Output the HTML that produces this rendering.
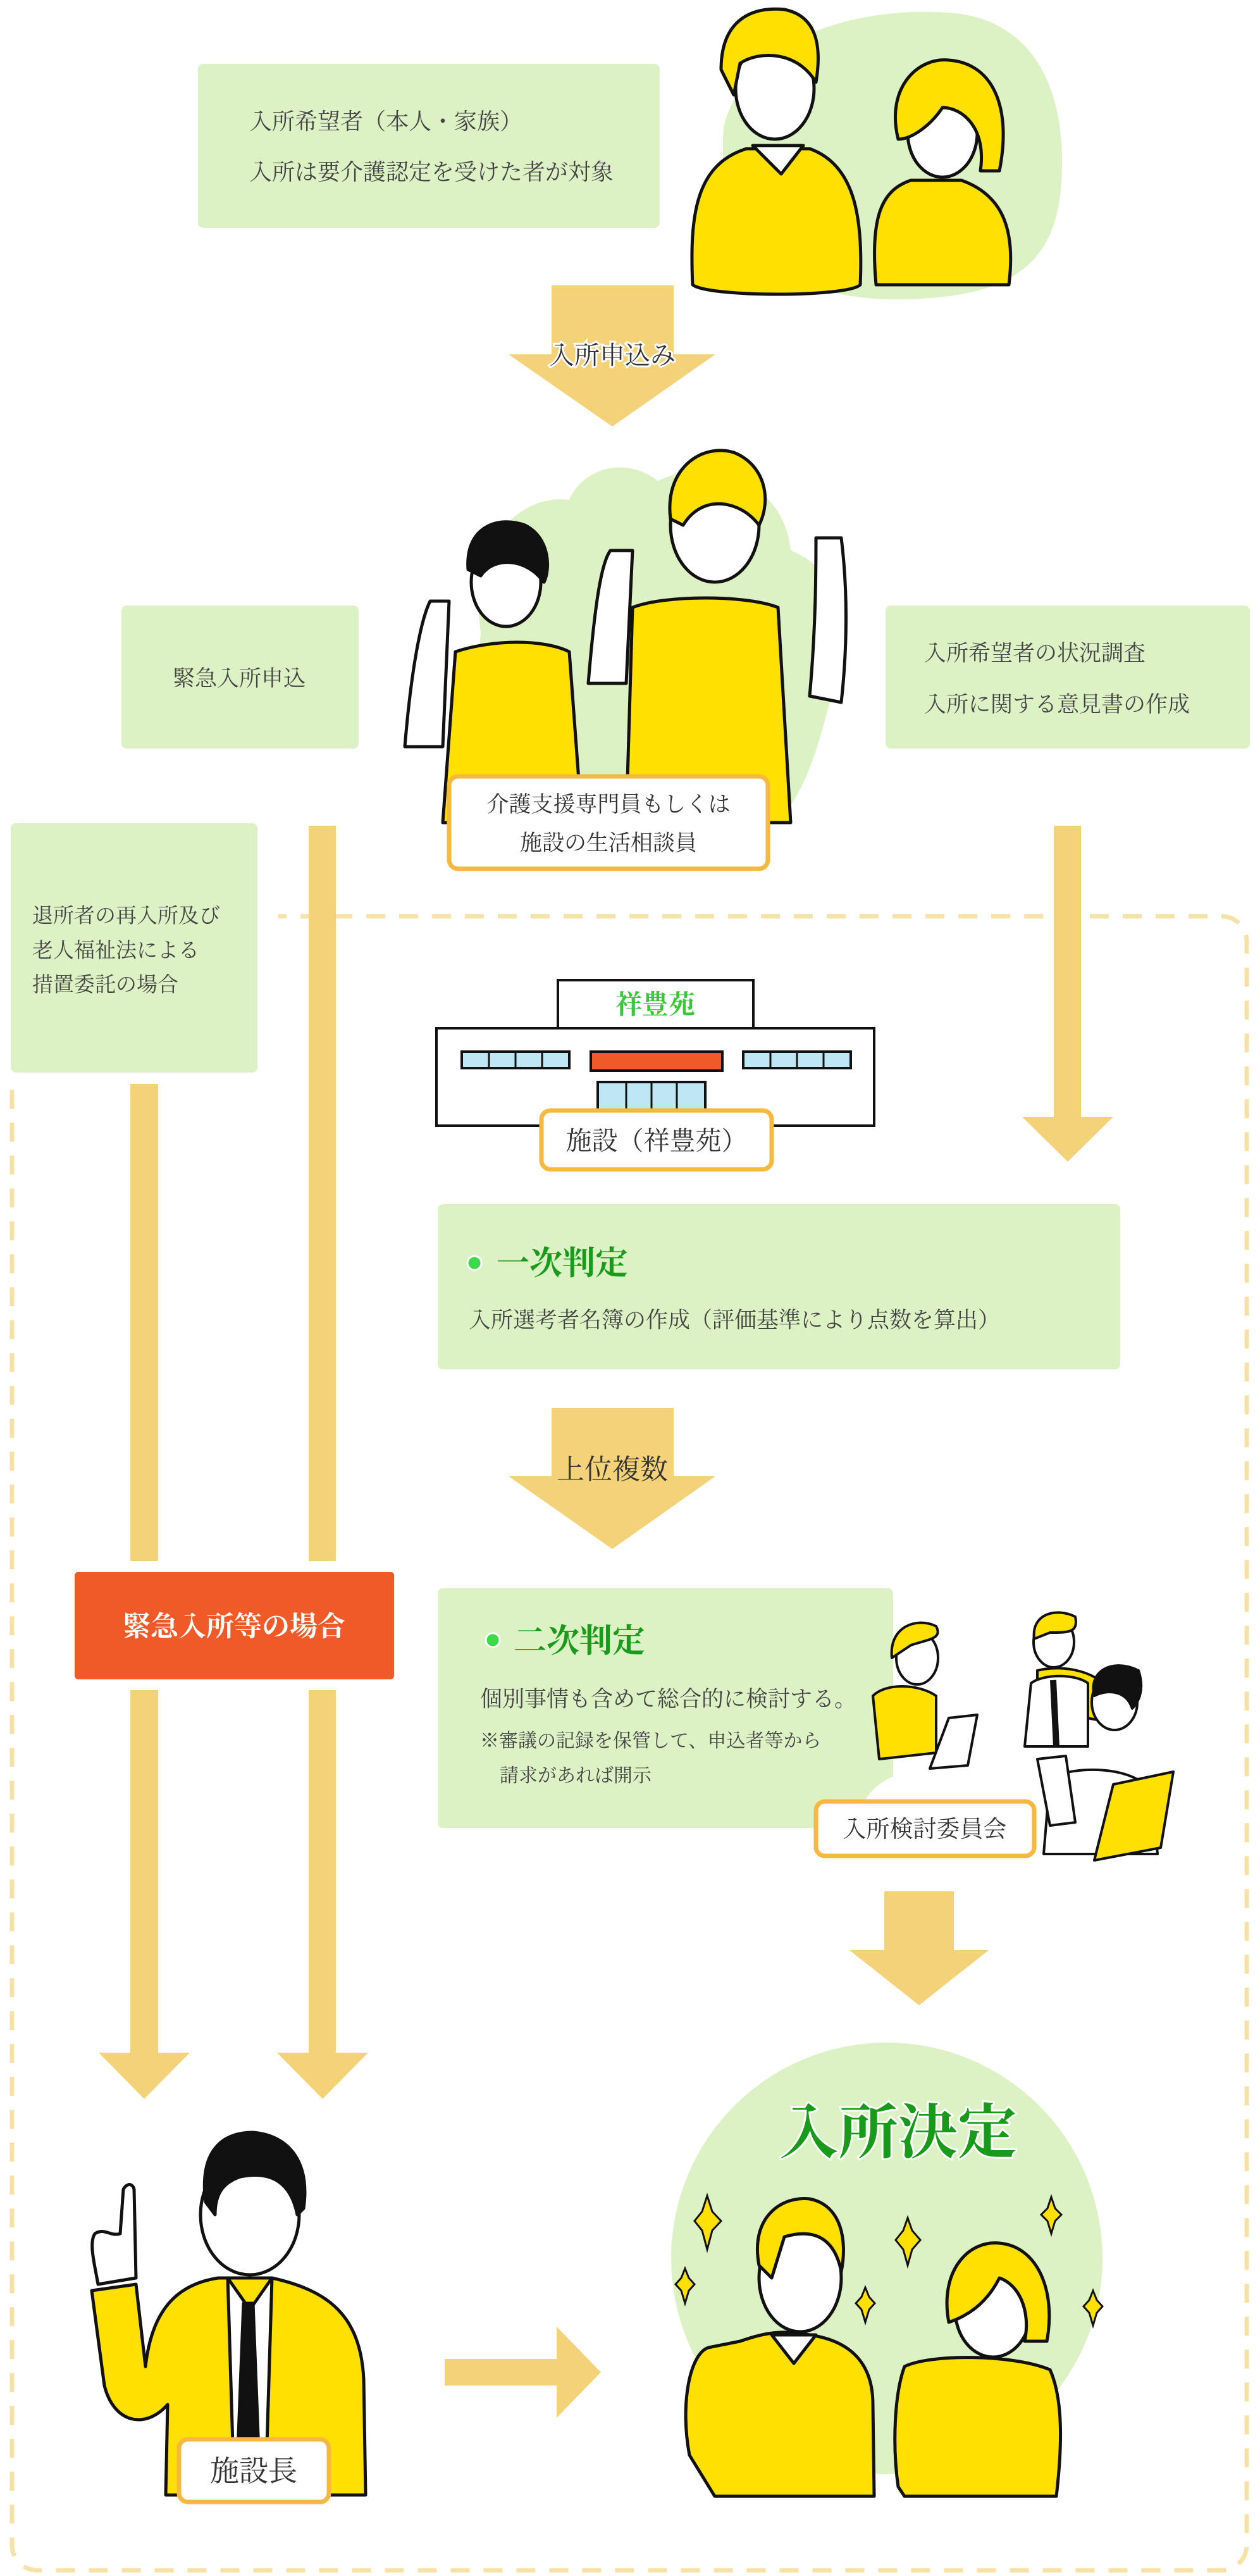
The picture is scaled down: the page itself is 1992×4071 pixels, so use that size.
<!DOCTYPE html>
<html><head><meta charset="utf-8"><style>
html,body{margin:0;padding:0;background:#fff}
svg{display:block}
text{font-family:"Liberation Serif","Noto Serif CJK JP","Noto Serif CJK SC",serif}
</style></head><body>
<svg width="1992" height="4071" viewBox="0 0 1992 4071" xmlns="http://www.w3.org/2000/svg">
<!-- dashed frame -->
<rect x="19" y="1448" width="1952" height="2614" rx="40" fill="none" stroke="#f6e2a6" stroke-width="7" stroke-dasharray="30 22"/>
<rect x="0" y="1300" width="440" height="420" fill="#fff"/>

<!-- top box -->
<rect x="313" y="101" width="730" height="259" rx="8" fill="#dcf2c4"/>
<text x="394" y="204" font-size="36" fill="#444">入所希望者（本人・家族）</text>
<text x="394" y="284" font-size="36" fill="#444">入所は要介護認定を受けた者が対象</text>

<!-- couple top -->
<path d="M1144 200 C1180 60 1350 10 1500 20 C1640 30 1690 150 1677 300 C1665 430 1580 470 1430 473 C1250 476 1130 400 1144 200Z" fill="#dcf2c4"/>
<g stroke="#111" stroke-width="5" stroke-linejoin="round">
<path d="M1095 450 C1090 340 1100 260 1180 235 L1280 235 C1350 260 1365 340 1360 450 C1340 470 1120 470 1095 450Z" fill="#ffe000"/>
<path d="M1190 230 L1235 275 L1270 230Z" fill="#fff"/>
<ellipse cx="1225" cy="140" rx="62" ry="80" fill="#fff"/>
<path d="M1140 110 C1140 30 1190 10 1240 15 C1290 25 1300 70 1290 130 C1260 80 1200 80 1170 100 L1160 150 Z" fill="#ffe000"/>
<path d="M1385 450 C1375 340 1395 300 1440 285 L1520 285 C1590 310 1605 370 1595 450 Z" fill="#ffe000"/>
<ellipse cx="1490" cy="210" rx="55" ry="70" fill="#fff"/>
<path d="M1420 220 C1400 140 1450 90 1500 95 C1570 100 1600 170 1580 270 L1550 270 C1560 200 1520 170 1490 170 C1470 200 1440 220 1420 220Z" fill="#ffe000"/>
</g>

<!-- arrow 1 -->
<rect x="872" y="451" width="193" height="110" fill="#f3d27a"/>
<polygon points="804,560 1131,560 968,674" fill="#f3d27a"/>
<text x="968" y="575" font-size="40" fill="#333" text-anchor="middle" stroke="#fff" stroke-width="6" paint-order="stroke">入所申込み</text>

<!-- staff blob -->
<path d="M760 1000 C740 860 820 780 900 790 C920 740 990 720 1040 760 C1120 720 1240 760 1250 870 C1330 900 1350 1000 1320 1080 C1300 1150 1280 1250 1230 1295 L800 1295 C760 1220 750 1100 760 1000Z" fill="#dcf2c4"/>
<g stroke="#111" stroke-width="5" stroke-linejoin="round">
<path d="M640 1180 C650 1060 665 980 680 950 L710 950 L700 1180 Z" fill="#fff"/>
<path d="M700 1300 L720 1030 C780 1010 860 1010 900 1030 L920 1300 Z" fill="#ffe000"/>
<ellipse cx="800" cy="920" rx="55" ry="70" fill="#fff"/>
<path d="M740 900 C735 830 790 815 830 830 C870 850 870 900 860 920 C830 880 780 880 760 910Z" fill="#111"/>
<path d="M930 1080 C940 960 950 890 965 870 L1000 870 L990 1080Z" fill="#fff"/>
<path d="M990 1300 L1000 960 C1050 940 1180 940 1230 960 L1250 1300Z" fill="#ffe000"/>
<ellipse cx="1130" cy="830" rx="70" ry="90" fill="#fff"/>
<path d="M1060 820 C1050 740 1110 700 1160 715 C1210 735 1220 790 1200 830 C1170 790 1110 780 1080 830Z" fill="#ffe000"/>
<path d="M1280 1100 C1290 990 1290 900 1290 850 L1330 850 C1340 930 1340 1020 1330 1110Z" fill="#fff"/>
</g>

<!-- side boxes -->
<rect x="192" y="957" width="375" height="226" rx="8" fill="#dcf2c4"/>
<text x="273" y="1084" font-size="35" fill="#444">緊急入所申込</text>
<rect x="1400" y="957" width="576" height="226" rx="8" fill="#dcf2c4"/>
<text x="1461" y="1044" font-size="35" fill="#444">入所希望者の状況調査</text>
<text x="1461" y="1125" font-size="35" fill="#444">入所に関する意見書の作成</text>

<!-- label staff -->
<rect x="710" y="1227" width="504" height="146" rx="14" fill="#fff" stroke="#f5b942" stroke-width="7"/>
<text x="962" y="1283" font-size="35" fill="#333" text-anchor="middle">介護支援専門員もしくは</text>
<text x="962" y="1344" font-size="35" fill="#333" text-anchor="middle">施設の生活相談員</text>

<!-- 退所者 box -->
<rect x="17" y="1301" width="390" height="394" rx="8" fill="#dcf2c4"/>
<text x="51" y="1458" font-size="33" fill="#444">退所者の再入所及び</text>
<text x="51" y="1513" font-size="33" fill="#444">老人福祉法による</text>
<text x="51" y="1567" font-size="33" fill="#444">措置委託の場合</text>

<!-- bars -->
<rect x="488" y="1305" width="43" height="1162" fill="#f3d27a"/>
<rect x="206" y="1713" width="44" height="754" fill="#f3d27a"/>
<rect x="1666" y="1305" width="43" height="465" fill="#f3d27a"/>
<polygon points="1616,1765 1760,1765 1688,1836" fill="#f3d27a"/>

<!-- building -->
<rect x="882" y="1549" width="309" height="78" fill="#fff" stroke="#111" stroke-width="4"/>
<text x="1036" y="1602" font-size="42" font-weight="bold" fill="#3cc63c" text-anchor="middle">祥豊苑</text>
<rect x="690" y="1625" width="692" height="154" fill="#fff" stroke="#111" stroke-width="4"/>
<g stroke="#111" stroke-width="4" fill="#bfe6f5">
<rect x="730" y="1662" width="170" height="26"/><rect x="1175" y="1662" width="170" height="26"/>
<rect x="945" y="1710" width="170" height="80"/>
</g>
<g stroke="#111" stroke-width="3">
<line x1="773" y1="1662" x2="773" y2="1688"/><line x1="815" y1="1662" x2="815" y2="1688"/><line x1="857" y1="1662" x2="857" y2="1688"/>
<line x1="1218" y1="1662" x2="1218" y2="1688"/><line x1="1260" y1="1662" x2="1260" y2="1688"/><line x1="1302" y1="1662" x2="1302" y2="1688"/>
<line x1="990" y1="1710" x2="990" y2="1790"/><line x1="1030" y1="1710" x2="1030" y2="1790"/><line x1="1070" y1="1710" x2="1070" y2="1790"/>
</g>
<rect x="934" y="1662" width="208" height="30" fill="#f05a28" stroke="#111" stroke-width="4"/>
<rect x="856" y="1755" width="364" height="93" rx="14" fill="#fff" stroke="#f5b942" stroke-width="7"/>
<text x="1038" y="1817" font-size="41" fill="#333" text-anchor="middle">施設（祥豊苑）</text>

<!-- 一次判定 -->
<rect x="692" y="1903" width="1079" height="261" rx="8" fill="#dcf2c4"/>
<circle cx="750" cy="1996" r="11" fill="#3fd84a" stroke="#fff" stroke-width="3"/>
<text x="785" y="2014" font-size="52" font-weight="bold" fill="#1a9a1a">一次判定</text>
<text x="741" y="2098" font-size="35" fill="#444">入所選考者名簿の作成（評価基準により点数を算出）</text>

<!-- arrow 上位複数 -->
<rect x="872" y="2225" width="193" height="110" fill="#f3d27a"/>
<polygon points="804,2333 1131,2333 968,2448" fill="#f3d27a"/>
<text x="968" y="2337" font-size="44" fill="#333" text-anchor="middle">上位複数</text>

<!-- 緊急 red -->
<rect x="118" y="2484" width="505" height="170" rx="6" fill="#f05a28"/>
<text x="370" y="2585" font-size="44" font-weight="bold" fill="#fff" text-anchor="middle">緊急入所等の場合</text>
<rect x="488" y="2671" width="43" height="575" fill="#f3d27a"/>
<rect x="206" y="2671" width="44" height="575" fill="#f3d27a"/>
<polygon points="156,3244 300,3244 228,3317" fill="#f3d27a"/>
<polygon points="438,3244 582,3244 510,3317" fill="#f3d27a"/>

<!-- 二次判定 -->
<rect x="692" y="2510" width="720" height="379" rx="8" fill="#dcf2c4"/>
<circle cx="779" cy="2592" r="11" fill="#3fd84a" stroke="#fff" stroke-width="3"/>
<text x="812" y="2611" font-size="52" font-weight="bold" fill="#1a9a1a">二次判定</text>
<text x="759" y="2697" font-size="35" fill="#444">個別事情も含めて総合的に検討する。</text>
<text x="759" y="2761" font-size="30" fill="#444">※審議の記録を保管して、申込者等から</text>
<text x="790" y="2816" font-size="30" fill="#444">請求があれば開示</text>

<!-- meeting -->
<path d="M1360 2880 C1360 2830 1400 2800 1480 2790 L1700 2790 L1800 2940 L1360 2940Z" fill="#fff"/>
<g stroke="#111" stroke-width="4" stroke-linejoin="round">
<path d="M1390 2780 L1380 2680 C1400 2660 1450 2660 1480 2680 L1480 2770Z" fill="#ffe000"/>
<ellipse cx="1450" cy="2620" rx="33" ry="42" fill="#fff"/>
<path d="M1410 2620 C1405 2570 1450 2555 1480 2570 C1490 2590 1470 2590 1440 2600 Z" fill="#ffe000"/>
<path d="M1500 2715 L1545 2710 L1530 2790 L1470 2795Z" fill="#fff"/>
<path d="M1640 2640 C1680 2630 1740 2640 1760 2680 L1745 2720 L1640 2700Z" fill="#ffe000"/>
<path d="M1620 2760 L1630 2660 C1650 2645 1700 2645 1720 2660 L1720 2760Z" fill="#fff"/>
<ellipse cx="1666" cy="2595" rx="32" ry="40" fill="#fff"/>
<path d="M1635 2590 C1630 2550 1670 2540 1700 2555 C1705 2580 1690 2580 1660 2580Z" fill="#ffe000"/>
<path d="M1665 2655 L1670 2760" stroke-width="10"/>
<ellipse cx="1762" cy="2690" rx="36" ry="44" fill="#fff"/>
<path d="M1730 2680 C1720 2640 1760 2620 1800 2640 C1810 2670 1800 2690 1790 2700 C1780 2670 1750 2670 1730 2680Z" fill="#111"/>
<path d="M1650 2930 L1660 2810 C1700 2790 1790 2790 1820 2830 L1830 2930Z" fill="#fff"/>
<path d="M1730 2940 L1760 2820 L1855 2800 L1835 2920Z" fill="#ffe000"/>
<path d="M1640 2780 L1685 2775 L1700 2880 L1660 2885Z" fill="#fff"/>
</g>
<rect x="1290" y="2847" width="345" height="86" rx="14" fill="#fff" stroke="#f5b942" stroke-width="7"/>
<text x="1462" y="2903" font-size="37" fill="#333" text-anchor="middle">入所検討委員会</text>

<rect x="1398" y="2989" width="110" height="95" fill="#f3d27a"/>
<polygon points="1343,3082 1563,3082 1453,3169" fill="#f3d27a"/>

<!-- director -->
<g stroke="#111" stroke-width="5" stroke-linejoin="round">
<path d="M230 3740 C240 3650 280 3610 345 3600 L430 3600 C520 3620 570 3660 575 3760 L578 3943 L262 3943 L265 3800 C230 3840 180 3830 165 3770 L145 3620 L215 3610 Z" fill="#ffe000"/>
<path d="M360 3600 L395 3650 L430 3600 L420 3930 L370 3930Z" fill="#fff"/>
<path d="M385 3640 L400 3640 L410 3900 L390 3930 L375 3900Z" fill="#111"/>
<ellipse cx="395" cy="3500" rx="78" ry="95" fill="#fff"/>
<path d="M325 3480 C315 3400 350 3370 400 3370 C460 3375 490 3420 480 3490 L470 3500 C460 3450 430 3430 380 3440 C350 3450 340 3470 340 3500Z" fill="#111"/>
<path d="M155 3610 C150 3580 140 3545 150 3530 C165 3520 175 3535 190 3530 L195 3460 C200 3450 210 3450 212 3460 L215 3600Z" fill="#fff"/>
</g>
<rect x="283" y="3855" width="237" height="99" rx="14" fill="#fff" stroke="#f5b942" stroke-width="7"/>
<text x="401" y="3921" font-size="46" fill="#333" text-anchor="middle">施設長</text>

<rect x="703" y="3728" width="179" height="42" fill="#f3d27a"/>
<polygon points="880,3677 950,3749 880,3821" fill="#f3d27a"/>

<!-- 入所決定 -->
<ellipse cx="1402" cy="3569" rx="341" ry="341" fill="#dcf2c4"/>
<rect x="1060" y="3910" width="690" height="40" fill="#fff"/>
<text x="1420" y="3402" font-size="94" font-weight="bold" fill="#1a9a1a" text-anchor="middle" stroke="#fff" stroke-width="6" paint-order="stroke">入所決定</text>
<g stroke="#111" stroke-width="5" stroke-linejoin="round">
<path d="M1090 3880 C1075 3800 1090 3720 1120 3710 L1170 3700 C1200 3690 1230 3680 1280 3690 C1350 3700 1380 3740 1380 3800 L1382 3945 L1130 3945 Z" fill="#ffe000"/>
<path d="M1220 3690 L1255 3735 L1290 3690Z" fill="#fff"/>
<ellipse cx="1265" cy="3600" rx="65" ry="85" fill="#fff"/>
<path d="M1200 3580 C1185 3500 1240 3470 1280 3475 C1330 3485 1340 3540 1330 3590 C1320 3540 1290 3520 1240 3535 L1220 3600Z" fill="#ffe000"/>
<path d="M1420 3930 C1410 3860 1415 3780 1430 3740 C1470 3720 1600 3720 1660 3745 C1680 3790 1680 3860 1670 3945 L1430 3945Z" fill="#ffe000"/>
<ellipse cx="1570" cy="3650" rx="60" ry="75" fill="#fff"/>
<path d="M1500 3670 C1485 3590 1530 3540 1580 3545 C1640 3550 1670 3620 1655 3700 L1620 3700 C1630 3650 1610 3610 1580 3600 C1560 3640 1530 3660 1500 3670Z" fill="#ffe000"/>
</g>
<g fill="#ffe000" stroke="#111" stroke-width="3">
<path d="M1118 3470 L1126 3495 L1140 3510 L1126 3525 L1118 3555 L1110 3525 L1098 3510 L1110 3495Z"/>
<path d="M1435 3505 L1442 3525 L1455 3540 L1442 3555 L1435 3580 L1428 3555 L1416 3540 L1428 3525Z"/>
<path d="M1662 3472 L1668 3490 L1678 3500 L1668 3510 L1662 3530 L1656 3510 L1646 3500 L1656 3490Z"/>
<path d="M1083 3585 L1089 3600 L1098 3610 L1089 3620 L1083 3640 L1077 3620 L1068 3610 L1077 3600Z"/>
<path d="M1368 3615 L1374 3630 L1383 3640 L1374 3650 L1368 3670 L1362 3650 L1353 3640 L1362 3630Z"/>
<path d="M1728 3620 L1734 3635 L1743 3645 L1734 3655 L1728 3675 L1722 3655 L1713 3645 L1722 3635Z"/>
</g>
</svg>
</body></html>
